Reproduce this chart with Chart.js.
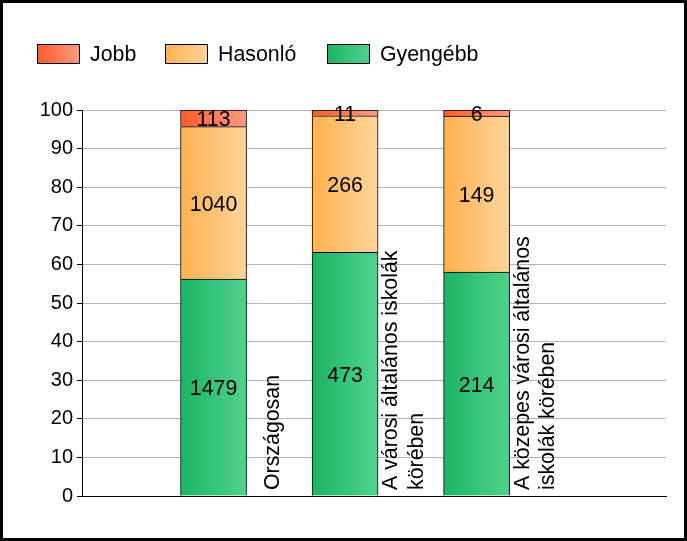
<!DOCTYPE html>
<html>
<head>
<meta charset="utf-8">
<script src="https://cdn.jsdelivr.net/npm/chart.js@4"></script>
<style>
html,body{margin:0;padding:0;background:#fff;}
#wrap{width:687px;height:541px;position:relative;}
</style>
</head>
<body>
<div id="wrap"><canvas id="c" width="687" height="541"></canvas></div>
<script>
// ---- data ----
const categories = [
  ['Országosan'],
  ['A városi általános iskolák', 'körében'],
  ['A közepes városi általános', 'iskolák körében']
];
const seriesNames = ['Gyengébb', 'Hasonló', 'Jobb'];
const gyengebbPct = [56.2, 63.1, 58.0];
const hasonloPct  = [39.5, 35.4, 40.4];
const jobbPct     = [4.3, 1.5, 1.6];
const gyengebbCount = [1479, 473, 214];
const hasonloCount  = [1040, 266, 149];
const jobbCount     = [113, 11, 6];
const yTicks = [0, 10, 20, 30, 40, 50, 60, 70, 80, 90, 100];

const FONT = "'Liberation Sans', Arial, sans-serif";
const TXT = 21.33;
const colors = {
  'Gyengébb': ['#1bb465', '#50d28e'],
  'Hasonló':  ['#ffb14f', '#ffd49c'],
  'Jobb':     ['#ff5a2c', '#ff9c80']
};
const BAR_W = 66;

function gradFill(name) {
  return function(ctx) {
    const chart = ctx.chart;
    const c = colors[name];
    if (ctx.type !== 'data' || !chart.chartArea) return c[0];
    const xs = chart.scales.x;
    const cx = xs.getPixelForValue(ctx.dataIndex + 1);
    const g = chart.ctx.createLinearGradient(cx - BAR_W / 2, 0, cx + BAR_W / 2, 0);
    g.addColorStop(0, c[0]);
    g.addColorStop(1, c[1]);
    return g;
  };
}

function toPoints(arr) { return arr.map((v, i) => ({ x: i + 1, y: v })); }

const datasets = [
  { label: seriesNames[0], data: toPoints(gyengebbPct), counts: gyengebbCount },
  { label: seriesNames[1], data: toPoints(hasonloPct), counts: hasonloCount },
  { label: seriesNames[2], data: toPoints(jobbPct), counts: jobbCount }
].map(d => Object.assign(d, {
  backgroundColor: gradFill(d.label),
  borderColor: '#000',
  borderWidth: 1,
  barThickness: BAR_W
}));

const framePlugin = {
  id: 'frame',
  beforeDraw(chart) {
    const ctx = chart.ctx;
    ctx.save();
    ctx.fillStyle = '#fff';
    ctx.fillRect(0, 0, chart.width, chart.height);
    ctx.restore();
  },
  afterDraw(chart) {
    const ctx = chart.ctx;
    ctx.save();
    ctx.strokeStyle = '#000';
    ctx.lineWidth = 3;
    ctx.strokeRect(1.5, 1.5, chart.width - 3, chart.height - 3);
    ctx.restore();
  }
};

const legendPlugin = {
  id: 'customLegend',
  afterDraw(chart) {
    const ctx = chart.ctx;
    const order = [2, 1, 0];
    const boxX = [37, 165, 327];
    ctx.save();
    ctx.font = TXT + 'px ' + FONT;
    ctx.textBaseline = 'alphabetic';
    ctx.textAlign = 'left';
    order.forEach((di, k) => {
      const name = chart.data.datasets[di].label;
      const c = colors[name];
      const x = boxX[k], y = 44, w = 43, h = 20;
      const g = ctx.createLinearGradient(x, 0, x + w, 0);
      g.addColorStop(0, c[0]);
      g.addColorStop(1, c[1]);
      ctx.fillStyle = g;
      ctx.fillRect(x, y, w, h);
      ctx.strokeStyle = '#000';
      ctx.lineWidth = 1;
      ctx.strokeRect(x + 0.5, y + 0.5, w - 1, h - 1);
      ctx.fillStyle = '#000';
      ctx.fillText(name, x + w + 10, 61);
    });
    ctx.restore();
  }
};

const valueLabelPlugin = {
  id: 'valueLabels',
  afterDatasetsDraw(chart) {
    const ctx = chart.ctx;
    ctx.save();
    ctx.font = TXT + 'px ' + FONT;
    ctx.fillStyle = '#000';
    ctx.textAlign = 'center';
    ctx.textBaseline = 'alphabetic';
    chart.data.datasets.forEach((ds, di) => {
      const meta = chart.getDatasetMeta(di);
      meta.data.forEach((el, i) => {
        const p = el.getProps(['x', 'y', 'base'], true);
        ctx.fillText(String(ds.counts[i]), p.x, (p.y + p.base) / 2 + 7.8);
      });
    });
    ctx.restore();
  }
};

const catLabelPlugin = {
  id: 'catLabels',
  afterDraw(chart) {
    const ctx = chart.ctx;
    const xs = chart.scales.x;
    const bottom = chart.chartArea.bottom - 6;
    const lh = 25.5;
    ctx.save();
    ctx.font = TXT + 'px ' + FONT;
    ctx.fillStyle = '#000';
    ctx.textAlign = 'left';
    ctx.textBaseline = 'alphabetic';
    categories.forEach((lines, i) => {
      const cx = xs.getPixelForValue(i + 1) + 65;
      ctx.save();
      ctx.translate(cx, bottom);
      ctx.rotate(-Math.PI / 2);
      lines.forEach((ln, k) => {
        ctx.fillText(ln, 0, (k - (lines.length - 1) / 2) * lh);
      });
      ctx.restore();
    });
    ctx.restore();
  }
};

new Chart(document.getElementById('c'), {
  type: 'bar',
  data: { datasets },
  options: {
    responsive: false,
    animation: false,
    devicePixelRatio: 1,
    layout: { padding: { left: 0, right: 21, top: 110, bottom: 45 } },
    plugins: { legend: { display: false }, tooltip: { enabled: false } },
    scales: {
      x: {
        type: 'linear',
        min: 0,
        max: 4.44,
        offset: false,
        stacked: true,
        grid: { display: false, drawTicks: false, offset: false },
        ticks: { display: false },
        border: { display: true, color: '#000', width: 1 },
        afterFit(s) { s.height = 0; }
      },
      y: {
        min: 0,
        max: 100,
        stacked: true,
        afterFit(s) { s.width = 82; },
        afterBuildTicks(s) { s.ticks = yTicks.map(v => ({ value: v })); },
        grid: { color: '#b4b4b4', tickColor: '#000', tickLength: 5, lineWidth: 1 },
        border: { display: true, color: '#000', width: 1 },
        ticks: { color: '#000', padding: 4, font: { family: FONT, size: 20 } }
      }
    }
  },
  plugins: [framePlugin, legendPlugin, valueLabelPlugin, catLabelPlugin]
});
</script>
</body>
</html>
